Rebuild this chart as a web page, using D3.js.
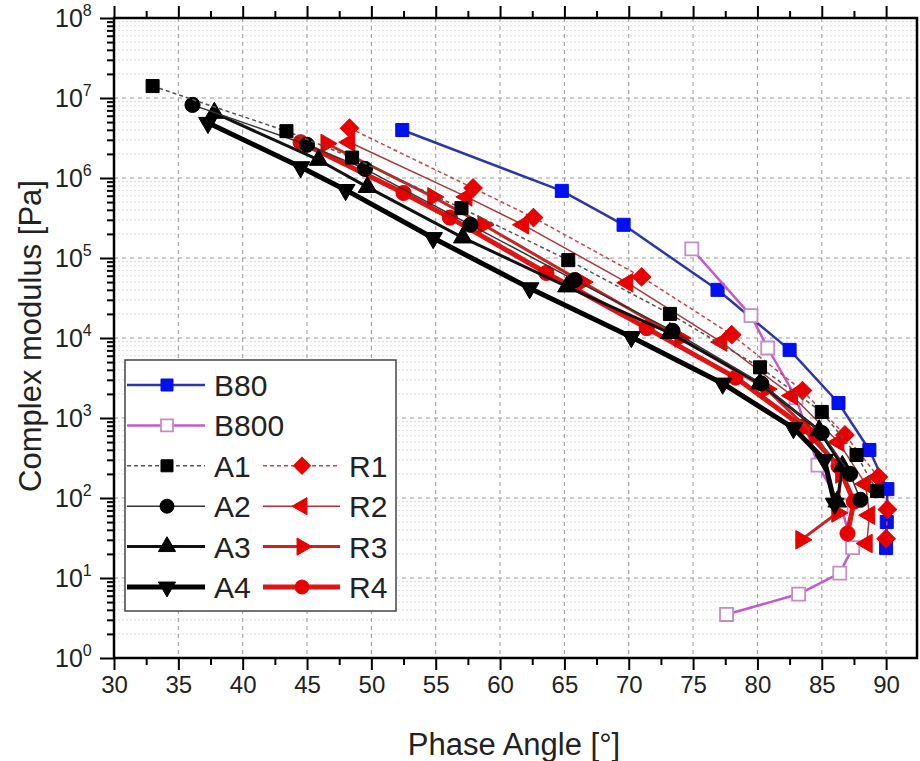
<!DOCTYPE html>
<html lang="en">
<head>
<meta charset="UTF-8">
<title>Complex modulus vs phase angle</title>
<style>
    body { margin: 0; background: #fff; }
    svg { display: block; font-family: "Liberation Sans", Arial, sans-serif; }
</style>
<script src="https://d3js.org/d3.v7.min.js"></script>
</head>
<body>
<svg width="920" height="761"></svg>
<script>
// [phase angle (deg), complex modulus (Pa)]
const B80  = [[52.4,3.98e6],[64.8,6.9e5],[69.6,2.6e5],[76.9,4.0e4],[82.5,7.1e3],[86.3,1.54e3],[88.7,398],[90.1,129],[90.05,50],[90.0,23.7]];
const B800 = [[74.9,1.3e5],[79.5,1.9e4],[80.8,7.5e3],[83.0,1.8e3],[84.7,258],[86.5,80],[87.4,24],[86.4,11.5],[83.2,6.3],[77.6,3.5]];
const A1 = [[33.0,1.41e7],[43.4,3.85e6],[48.5,1.8e6],[57.0,4.2e5],[65.3,9.4e4],[73.2,2.0e4],[80.2,4.3e3],[85.0,1.19e3],[87.7,345],[89.3,122]];
const A2 = [[36.1,8.2e6],[45.0,2.6e6],[49.5,1.3e6],[57.7,2.6e5],[65.8,5.3e4],[73.4,1.23e4],[80.3,2.7e3],[85.0,650],[87.2,200],[88.0,95]];
const A3 = [[37.8,6.5e6],[45.9,1.68e6],[49.7,7.7e5],[57.1,1.8e5],[65.2,4.4e4],[73.2,1.15e4],[80.2,2.7e3],[84.8,700],[86.6,250],[86.2,90]];
const A4 = [[37.3,4.9e6],[44.5,1.37e6],[48.0,7.1e5],[54.8,1.78e5],[62.3,4.2e4],[70.2,1.03e4],[77.3,2.7e3],[82.8,750],[85.2,300],[86.0,85]];
const R1 = [[48.3,4.2e6],[57.9,7.5e5],[62.6,3.2e5],[71.0,5.8e4],[78.0,1.1e4],[83.5,2.2e3],[86.8,615],[89.4,183],[90.1,72],[90.0,31]];
const R2 = [[48.3,2.8e6],[57.4,5.8e5],[61.8,2.6e5],[69.9,4.9e4],[77.2,8.9e3],[82.7,1.9e3],[86.3,500],[88.4,150],[88.7,61],[88.5,27]];
const R3 = [[46.5,2.7e6],[54.8,5.8e5],[58.7,2.6e5],[66.4,5.0e4],[74.0,1.0e4],[80.7,2.3e3],[84.5,600],[86.5,200],[86.2,65],[83.4,30]];
const R4 = [[44.5,2.8e6],[52.5,6.5e5],[56.1,3.2e5],[63.6,6.5e4],[71.4,1.33e4],[78.3,3.2e3],[83.5,780],[86.3,250],[87.5,90],[87.0,36]];

const xTicks = [30, 35, 40, 45, 50, 55, 60, 65, 70, 75, 80, 85, 90];
const yExponents = [0, 1, 2, 3, 4, 5, 6, 7, 8];

// style table for the series, drawn in this order
const series = [
    {name: "B80",  data: B80,  line: "#2c36a8", width: 2.5, dash: null, sym: "square", fill: "#0010f0", stroke: "#0010f0"},
    {name: "B800", data: B800, line: "#c458cc", width: 2.5, dash: null, sym: "square", fill: "#fff", stroke: "#c68cc8"},
    {name: "R4", data: R4, line: "#e01414", width: 5,   dash: null,  sym: "circle",  fill: "#e80000", stroke: "#e80000"},
    {name: "R3", data: R3, line: "#c82424", width: 3,   dash: null,  sym: "right",   fill: "#e80000", stroke: "#e80000"},
    {name: "R2", data: R2, line: "#a83838", width: 1.5, dash: null,  sym: "left",    fill: "#e80000", stroke: "#e80000"},
    {name: "R1", data: R1, line: "#d04040", width: 1.5, dash: "4,3", sym: "diamond", fill: "#e80000", stroke: "#e80000"},
    {name: "A4", data: A4, line: "#000", width: 5,   dash: null,  sym: "down",   fill: "#000", stroke: "#000"},
    {name: "A3", data: A3, line: "#111", width: 3,   dash: null,  sym: "up",     fill: "#000", stroke: "#000"},
    {name: "A2", data: A2, line: "#333", width: 1.5, dash: null,  sym: "circle", fill: "#000", stroke: "#000"},
    {name: "A1", data: A1, line: "#555", width: 1.5, dash: "4,3", sym: "square", fill: "#000", stroke: "#000"}
];

const svg = d3.select("svg");
const pLeft = 114, pRight = 917, pTop = 18, pBottom = 658;

const x = d3.scaleLinear().domain([30, 92.4]).range([pLeft, pRight]);
const y = d3.scaleLog().domain([1, 1e8]).range([pBottom, pTop]);

// minor horizontal grid
const minorY = [];
yExponents.slice(0, -1).forEach(e => {
    for (let m = 2; m <= 9; m++) minorY.push(m * Math.pow(10, e));
});
svg.append("g").selectAll("line").data(minorY).join("line")
    .attr("x1", pLeft).attr("x2", pRight)
    .attr("y1", d => y(d)).attr("y2", d => y(d))
    .attr("stroke", "#dcdcdc").attr("stroke-width", 1).attr("stroke-dasharray", "2,2");

// major grid
svg.append("g").selectAll("line").data(xTicks.slice(1)).join("line")
    .attr("x1", d => x(d)).attr("x2", d => x(d))
    .attr("y1", pTop).attr("y2", pBottom)
    .attr("stroke", "#9a9a9a").attr("stroke-width", 1).attr("stroke-dasharray", "4,4");
svg.append("g").selectAll("line").data(yExponents.slice(1, -1)).join("line")
    .attr("x1", pLeft).attr("x2", pRight)
    .attr("y1", d => y(Math.pow(10, d))).attr("y2", d => y(Math.pow(10, d)))
    .attr("stroke", "#9a9a9a").attr("stroke-width", 1).attr("stroke-dasharray", "4,4");

// markers
const symbols = {
    square:  [d3.symbolSquare, 0, 170],
    diamond: [d3.symbolSquare, 45, 170],
    circle:  [d3.symbolCircle, 0, 180],
    up:      [d3.symbolTriangle, 0, 150],
    down:    [d3.symbolTriangle, 180, 150],
    left:    [d3.symbolTriangle, -90, 150],
    right:   [d3.symbolTriangle, 90, 150]
};
function drawMarker(g, s, cx, cy, scale) {
    const [type, rot, size] = symbols[s.sym];
    g.append("path")
        .attr("d", d3.symbol().type(type).size(size * scale)())
        .attr("transform", `translate(${cx},${cy}) rotate(${rot})`)
        .attr("fill", s.fill)
        .attr("stroke", s.stroke)
        .attr("stroke-width", s.fill === "#fff" ? 1.8 : 1);
}

const line = d3.line().x(d => x(d[0])).y(d => y(d[1]));
const plot = svg.append("g");
series.forEach(s => {
    plot.append("path").datum(s.data)
        .attr("d", line)
        .attr("fill", "none")
        .attr("stroke", s.line)
        .attr("stroke-width", s.width)
        .attr("stroke-linejoin", "round")
        .attr("stroke-dasharray", s.dash);
    s.data.forEach(d => drawMarker(plot, s, x(d[0]), y(d[1]), 1));
});

// axes
const xMinor = d3.range(32.5, 92, 5);
svg.append("g").attr("transform", `translate(0,${pBottom})`)
    .call(d3.axisBottom(x).tickValues(xTicks).tickSize(12).tickPadding(6))
    .call(g => g.selectAll("text").attr("font-size", 24).attr("fill", "#222"));
svg.append("g").attr("transform", `translate(0,${pBottom})`)
    .call(d3.axisBottom(x).tickValues(xMinor).tickSize(7).tickFormat(""));
svg.append("g").attr("transform", `translate(0,${pTop})`)
    .call(d3.axisTop(x).tickValues(xTicks).tickSize(12).tickFormat(""));
svg.append("g").attr("transform", `translate(0,${pTop})`)
    .call(d3.axisTop(x).tickValues(xMinor).tickSize(7).tickFormat(""));
svg.append("g").attr("transform", `translate(${pLeft},0)`)
    .call(d3.axisLeft(y).tickValues(yExponents.map(e => Math.pow(10, e))).tickSize(14).tickFormat(""));
svg.append("g").attr("transform", `translate(${pLeft},0)`)
    .call(d3.axisLeft(y).tickValues(minorY).tickSize(7).tickFormat(""));
svg.selectAll(".domain").remove();
svg.selectAll(".tick line").attr("stroke", "#000").attr("stroke-width", 2);

// y tick labels with superscripts
const yLab = svg.append("g").attr("font-size", 25).attr("fill", "#222");
yExponents.forEach(e => {
    const t = yLab.append("text")
        .attr("x", 55).attr("y", y(Math.pow(10, e)) + 9);
    t.append("tspan").text("10");
    t.append("tspan").attr("font-size", 16).attr("dy", -11).text(e);
});

// frame
svg.append("rect")
    .attr("x", pLeft).attr("y", pTop)
    .attr("width", pRight - pLeft).attr("height", pBottom - pTop)
    .attr("fill", "none").attr("stroke", "#000").attr("stroke-width", 2.5);

// axis titles
svg.append("text")
    .attr("x", 514).attr("y", 755)
    .attr("text-anchor", "middle").attr("font-size", 31).attr("fill", "#222")
    .text("Phase Angle [°]");
svg.append("text")
    .attr("transform", "translate(41,336) rotate(-90)")
    .attr("text-anchor", "middle").attr("font-size", 31).attr("fill", "#222")
    .text("Complex modulus [Pa]");

// legend
const legend = svg.append("g");
legend.append("rect")
    .attr("x", 125).attr("y", 360).attr("width", 271).attr("height", 251)
    .attr("fill", "#fff").attr("stroke", "#444").attr("stroke-width", 1.5);
const byName = Object.fromEntries(series.map(s => [s.name, s]));
const legendRows = [["B80"], ["B800"], ["A1", "R1"], ["A2", "R2"], ["A3", "R3"], ["A4", "R4"]];
const colX = [[127, 205, 167, 214], [263, 340, 302, 349]];
legendRows.forEach((row, i) => {
    const ry = 385 + i * 40.4;
    row.forEach((name, j) => {
        const s = byName[name];
        const [x1, x2, mx, tx] = colX[j];
        legend.append("line")
            .attr("x1", x1).attr("x2", x2).attr("y1", ry).attr("y2", ry)
            .attr("stroke", s.line).attr("stroke-width", s.width)
            .attr("stroke-dasharray", s.dash);
        drawMarker(legend, s, mx, ry, 0.85);
        legend.append("text")
            .attr("x", tx).attr("y", ry + 11)
            .attr("font-size", 30).attr("fill", "#222")
            .text(name);
    });
});
</script>
</body>
</html>
